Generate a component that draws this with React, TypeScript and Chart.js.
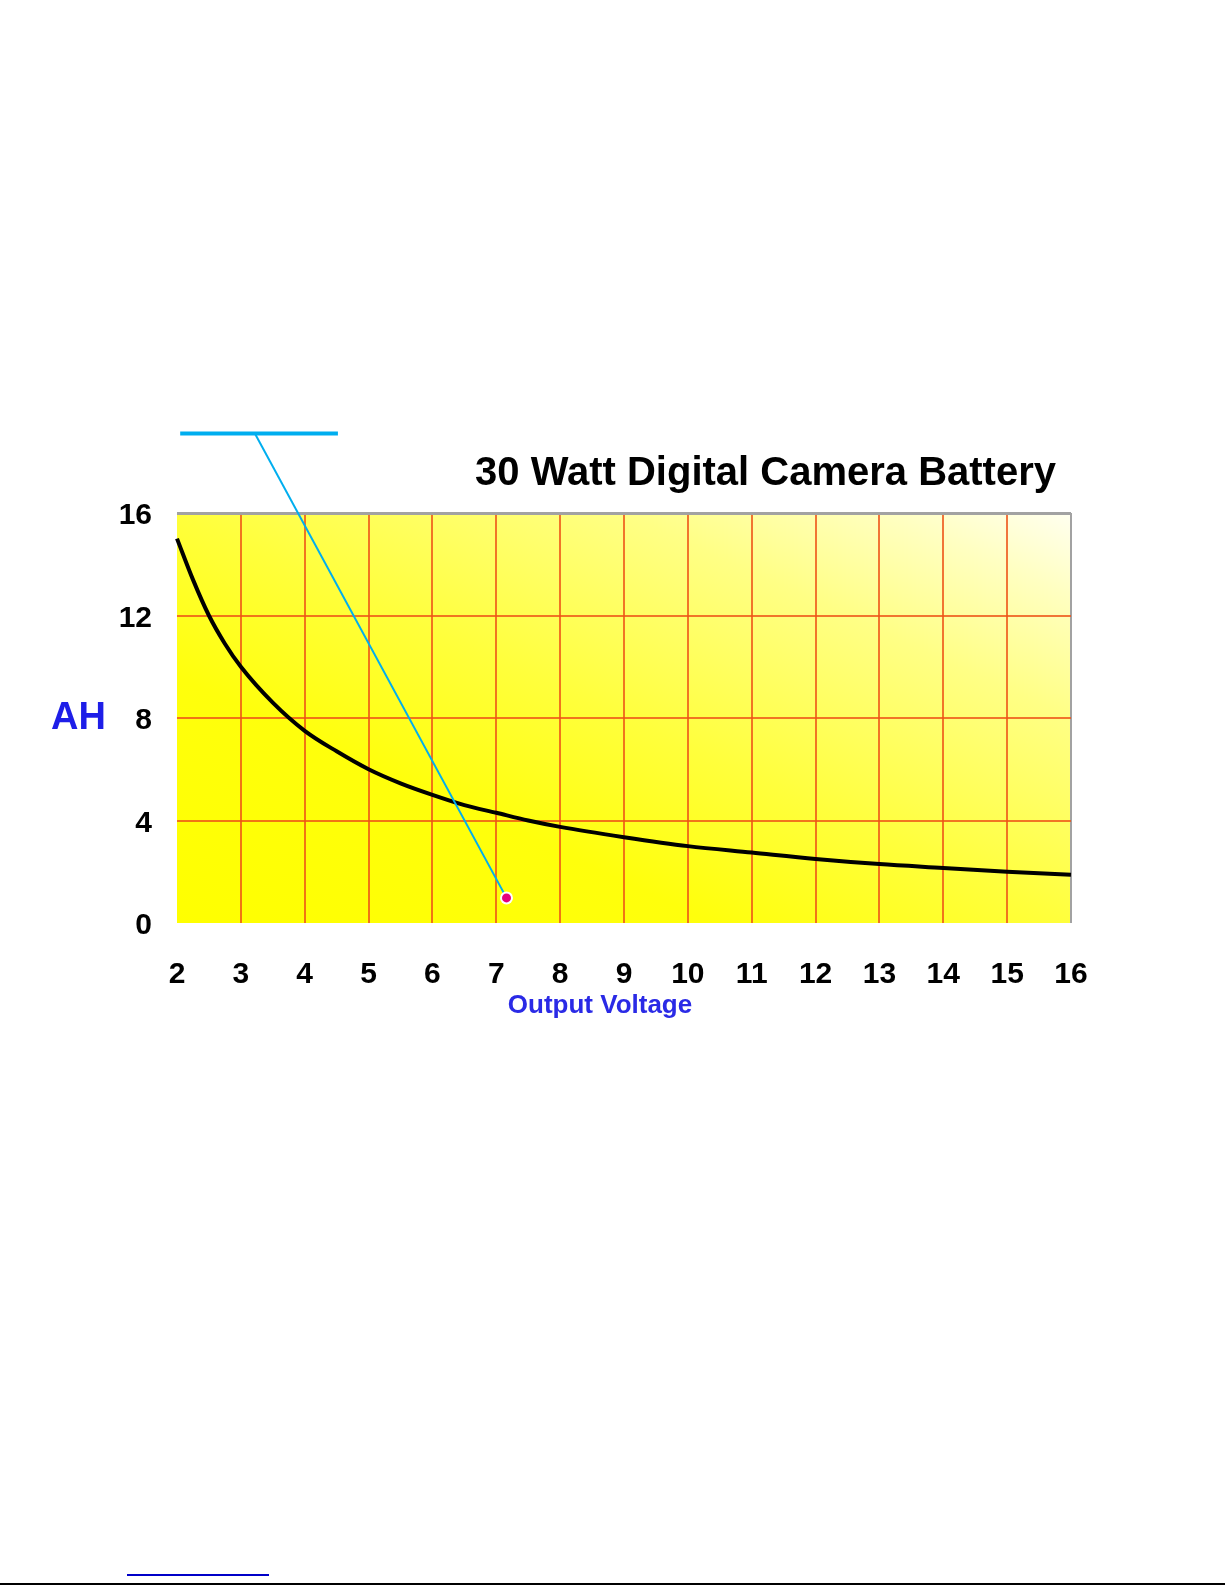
import React, { useEffect, useRef } from 'react';
import { Chart, registerables } from 'chart.js';

Chart.register(...registerables);

// ---- data ----
const voltage = [2, 2.25, 2.5, 2.75, 3, 3.5, 4, 4.5, 5, 5.5, 6, 6.5, 7, 7.5, 8, 9, 10, 11, 12, 13, 14, 15, 16];
const ampHours = [15, 13.4, 12, 10.9, 10, 8.6, 7.5, 6.7, 6, 5.45, 5, 4.6, 4.3, 4, 3.75, 3.35, 3, 2.75, 2.5, 2.3, 2.15, 2, 1.88];

const xMin = 2;
const xMax = 16;
const xStep = 1;
const yMin = 0;
const yMax = 16;
const yStep = 4;

const titleText = '30 Watt Digital Camera Battery';
const yAxisLabel = 'AH';
const xAxisLabel = 'Output Voltage';

// callout (in data units): horizontal bar and leader line ending in a dot
const calloutBarX = [2.05, 4.52];
const calloutBarY = [19.1, 19.1];
const calloutLeaderX = [3.22, 7.16];
const calloutLeaderY = [19.1, 0.98];

const FONT = '"Liberation Sans", Arial, Helvetica, sans-serif';
const GRID_RED = 'rgba(238, 82, 22, 0.8)';
const EDGE_GRAY = '#a2a2a2';

const decorPlugin = {
  id: 'decor',
  beforeDraw(chart: any) {
    const { ctx, chartArea: a } = chart;
    const w = a.right - a.left;
    const h = a.bottom - a.top;
    const s = (2 * w * h) / (w * w + h * h);
    ctx.save();
    const g = ctx.createLinearGradient(a.left, a.bottom, a.left + h * s, a.bottom - w * s);
    g.addColorStop(0, '#ffff00');
    g.addColorStop(0.3, '#ffff0c');
    g.addColorStop(0.5, '#ffff3c');
    g.addColorStop(0.75, '#ffff85');
    g.addColorStop(0.9, '#ffffc2');
    g.addColorStop(1, '#fffff0');
    ctx.fillStyle = g;
    ctx.fillRect(a.left, a.top, w, h);
    ctx.restore();
  },
  afterDraw(chart: any) {
    const { ctx, chartArea: a, scales } = chart;
    const xs = scales.x;
    const ys = scales.y;
    ctx.save();
    // title
    ctx.font = `bold 40px ${FONT}`;
    ctx.fillStyle = '#000';
    ctx.textAlign = 'right';
    ctx.textBaseline = 'alphabetic';
    ctx.fillText(titleText, a.right - 15, a.top - 28);
    // y label
    ctx.font = `bold 38px ${FONT}`;
    ctx.fillStyle = '#1e1ee8';
    ctx.textAlign = 'left';
    ctx.textBaseline = 'middle';
    ctx.fillText(yAxisLabel, a.left - 126, ys.getPixelForValue(8) + 1);
    // x label
    ctx.font = `bold 26px ${FONT}`;
    ctx.fillStyle = '#2a2ae6';
    ctx.textAlign = 'center';
    ctx.fillText(xAxisLabel, (a.left + a.right) / 2 - 24, a.bottom + 83);

    // callout bar
    ctx.strokeStyle = '#00aeef';
    ctx.lineCap = 'butt';
    ctx.lineWidth = 4;
    ctx.beginPath();
    ctx.moveTo(xs.getPixelForValue(calloutBarX[0]), ys.getPixelForValue(calloutBarY[0]));
    ctx.lineTo(xs.getPixelForValue(calloutBarX[1]), ys.getPixelForValue(calloutBarY[1]));
    ctx.stroke();
    // leader
    ctx.lineWidth = 2;
    const lx0 = xs.getPixelForValue(calloutLeaderX[0]);
    const ly0 = ys.getPixelForValue(calloutLeaderY[0]);
    const lx1 = xs.getPixelForValue(calloutLeaderX[1]);
    const ly1 = ys.getPixelForValue(calloutLeaderY[1]);
    ctx.beginPath();
    ctx.moveTo(lx0, ly0);
    ctx.lineTo(lx1, ly1);
    ctx.stroke();
    // dot
    ctx.fillStyle = '#ffffff';
    ctx.beginPath();
    ctx.arc(lx1, ly1, 6.5, 0, Math.PI * 2);
    ctx.fill();
    ctx.fillStyle = '#e5007d';
    ctx.beginPath();
    ctx.arc(lx1, ly1, 4.5, 0, Math.PI * 2);
    ctx.fill();
    ctx.restore();
  },
};

export default function App() {
  const canvasRef = useRef<HTMLCanvasElement | null>(null);

  useEffect(() => {
    const canvas = canvasRef.current;
    if (!canvas) return;
    const chart = new Chart(canvas, {
      type: 'line',
      data: {
        datasets: [
          {
            label: 'AH',
            data: voltage.map((v, i) => ({ x: v, y: ampHours[i] })),
            borderColor: '#000000',
            borderWidth: 4,
            pointRadius: 0,
            cubicInterpolationMode: 'monotone',
            fill: false,
            clip: false,
          } as any,
        ],
      },
      options: {
        animation: false,
        responsive: false,
        devicePixelRatio: 1,
        events: [],
        layout: { padding: { left: 0, top: 513, right: 154, bottom: 582 } },
        plugins: {
          legend: { display: false },
          title: { display: false },
          tooltip: { enabled: false },
        },
        scales: {
          x: {
            type: 'linear',
            min: xMin,
            max: xMax,
            ticks: {
              stepSize: xStep,
              color: '#000',
              padding: 34,
              maxRotation: 0,
              autoSkip: false,
              font: { family: FONT, size: 30, weight: 'bold' },
            },
            grid: {
              drawTicks: false,
              lineWidth: 2,
              color: (c: any) =>
                c.tick && c.tick.value === xMax ? EDGE_GRAY : c.tick && c.tick.value === xMin ? 'rgba(0,0,0,0)' : GRID_RED,
            },
            border: { display: false },
            afterFit: (s: any) => {
              s.height = 80;
            },
          },
          y: {
            type: 'linear',
            min: yMin,
            max: yMax,
            ticks: {
              stepSize: yStep,
              color: '#000',
              padding: 25,
              labelOffset: 3,
              font: { family: FONT, size: 30, weight: 'bold' },
            },
            grid: {
              drawTicks: false,
              lineWidth: (c: any) => (c.tick && c.tick.value === yMax ? 3 : 2),
              color: (c: any) =>
                c.tick && c.tick.value === yMax ? EDGE_GRAY : c.tick && c.tick.value === yMin ? 'rgba(0,0,0,0)' : GRID_RED,
            },
            border: { display: false },
            afterFit: (s: any) => {
              s.width = 177;
            },
          },
        },
      } as any,
      plugins: [decorPlugin],
    });
    return () => chart.destroy();
  }, []);

  return (
    <div style={{ position: 'absolute', left: 0, top: 0, width: 1225, height: 1585, background: '#fff' }}>
      <canvas ref={canvasRef} width={1225} height={1585} style={{ display: 'block', width: 1225, height: 1585 }} />
      <div style={{ position: 'absolute', left: 127, top: 1574, width: 142, height: 2, background: '#0000c8' }} />
      <div style={{ position: 'absolute', left: 0, top: 1583, width: 1225, height: 2, background: '#000' }} />
    </div>
  );
}
